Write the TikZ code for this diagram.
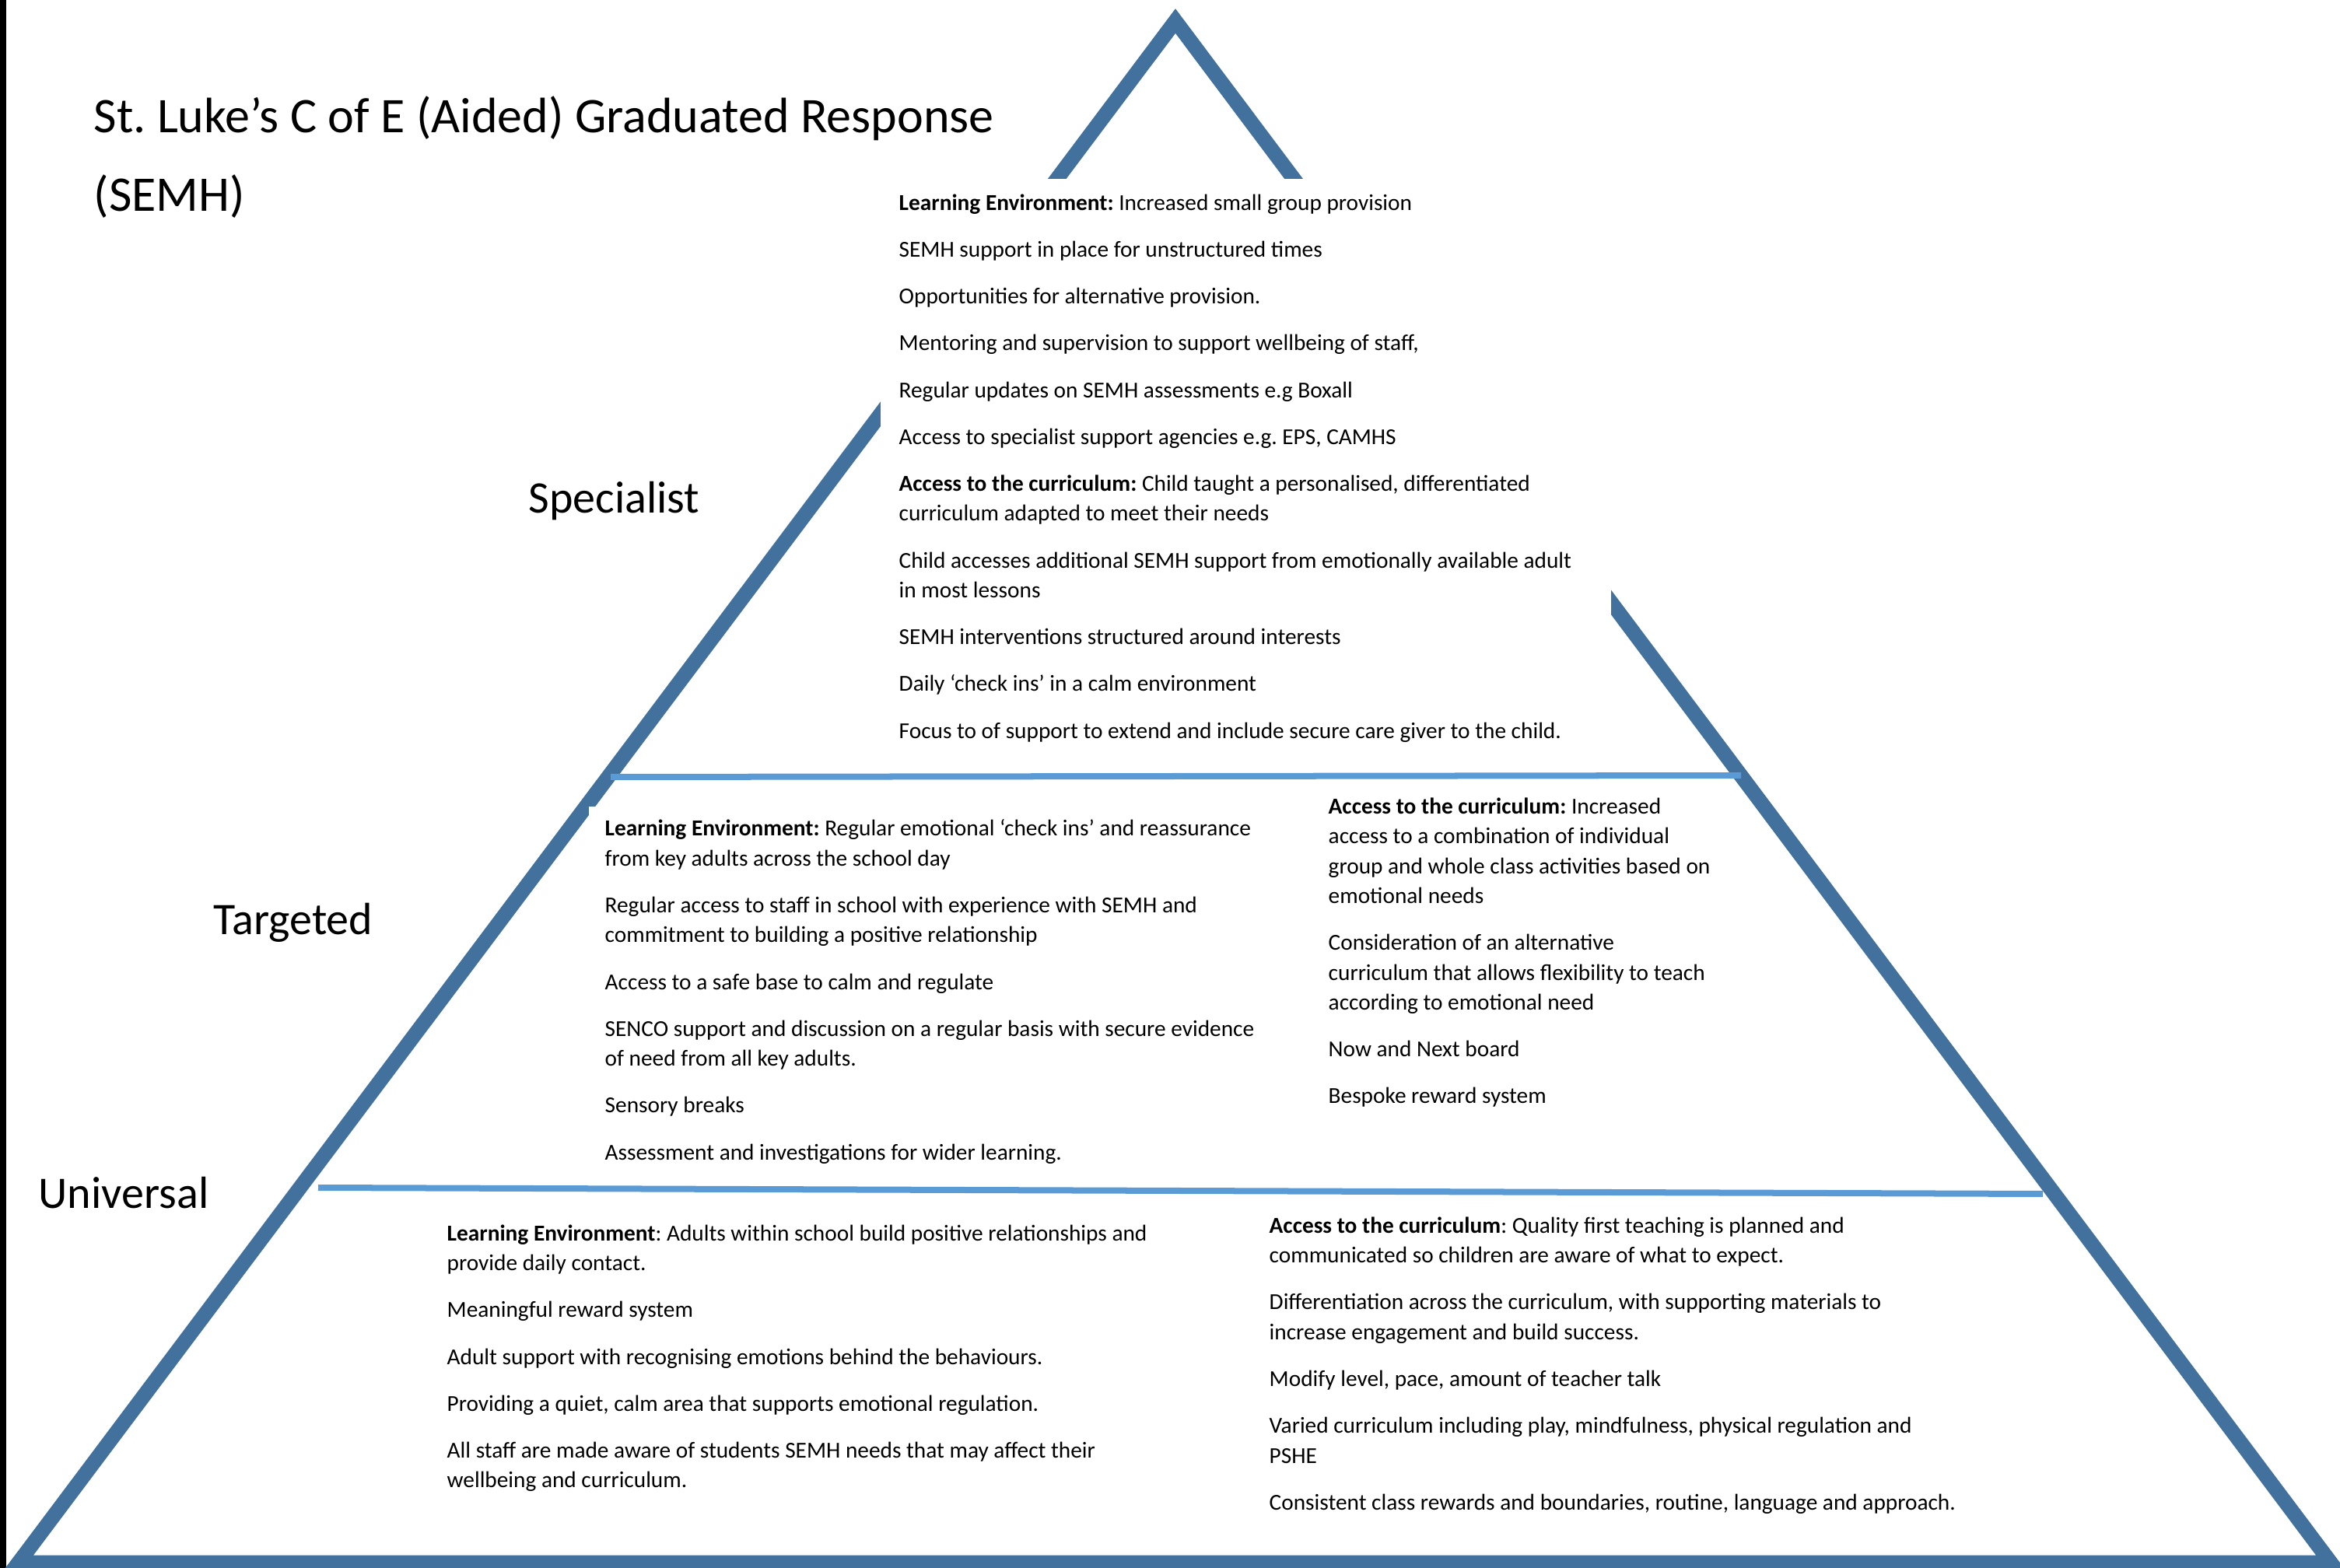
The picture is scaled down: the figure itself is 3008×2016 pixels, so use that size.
\documentclass[tikz,border=0pt]{standalone}
\usepackage{fontspec}
\setmainfont{Carlito}
\usepackage{tikz}
\frenchspacing
\definecolor{pyramid}{RGB}{65,113,156}
\definecolor{divider}{RGB}{91,155,213}
\tikzstyle{edge} = [draw=pyramid, line width=0.19cm, line join=miter]
\tikzstyle{band} = [draw=divider, line width=0.08cm]
\tikzstyle{mask} = [fill=white]
\tikzstyle{heading} = [anchor=north west, inner sep=0pt, align=left, font=\fontsize{18.2}{22.2}\selectfont, execute at begin node=\strut]
\tikzstyle{level} = [anchor=base west, inner sep=0pt, font=\fontsize{16.5}{20}\selectfont]
\tikzstyle{items} = [anchor=north west, inner sep=0pt, align=left, font=\fontsize{8.34}{10.92}\selectfont, execute at begin node=\strut]
\newcommand{\itemgap}{\\[6.2pt]}

\begin{document}
\begin{tikzpicture}[x=0.01cm, y=-0.01cm]
		\useasboundingbox (0,0) rectangle (3008,2016);
		\fill[black] (0,0) rectangle (8,2016);
		\draw [edge] (24,2009) -- (1511,27) -- (2996,2009) -- cycle;
		\fill [mask] (1132,230) rectangle (2071,975);
		\fill [mask] (757,1037) rectangle (1650,1515);
		\draw [band] (785,999) -- (2238,997);
		\draw [band] (409,1527) -- (2626,1535);
		\node (title) [heading] at (120,123) {St. Luke’s C of E (Aided) Graduated Response\\[6.6pt](SEMH)};
		\node (specialist) [level] at (679,660) {Specialist};
		\node (targeted) [level] at (274,1202) {Targeted};
		\node (universal) [level] at (49,1553) {Universal};
		\node (spec) [items] at (1155,249) {\textbf{Learning Environment:} Increased small group provision\itemgap
			SEMH support in place for unstructured times\itemgap
			Opportunities for alternative provision.\itemgap
			Mentoring and supervision to support wellbeing of staff,\itemgap
			Regular updates on SEMH assessments e.g Boxall\itemgap
			Access to specialist support agencies e.g. EPS, CAMHS\itemgap
			\textbf{Access to the curriculum:} Child taught a personalised, differentiated\\
			curriculum adapted to meet their needs\itemgap
			Child accesses additional SEMH support from emotionally available adult\\
			in most lessons\itemgap
			SEMH interventions structured around interests\itemgap
			Daily ‘check ins’ in a calm environment\itemgap
			Focus to of support to extend and include secure care giver to the child.};
		\node (targenv) [items] at (777,1053) {\textbf{Learning Environment:} Regular emotional ‘check ins’ and reassurance\\
			from key adults across the school day\itemgap
			Regular access to staff in school with experience with SEMH and\\
			commitment to building a positive relationship\itemgap
			Access to a safe base to calm and regulate\itemgap
			SENCO support and discussion on a regular basis with secure evidence\\
			of need from all key adults.\itemgap
			Sensory breaks\itemgap
			Assessment and investigations for wider learning.};
		\node (targcurr) [items] at (1707,1025) {\textbf{Access to the curriculum:} Increased\\
			access to a combination of individual\\
			group and whole class activities based on\\
			emotional needs\itemgap
			Consideration of an alternative\\
			curriculum that allows flexibility to teach\\
			according to emotional need\itemgap
			Now and Next board\itemgap
			Bespoke reward system};
		\node (univenv) [items] at (574,1574) {\textbf{Learning Environment}: Adults within school build positive relationships and\\
			provide daily contact.\itemgap
			Meaningful reward system\itemgap
			Adult support with recognising emotions behind the behaviours.\itemgap
			Providing a quiet, calm area that supports emotional regulation.\itemgap
			All staff are made aware of students SEMH needs that may affect their\\
			wellbeing and curriculum.};
		\node (univcurr) [items] at (1631,1564) {\textbf{Access to the curriculum}: Quality first teaching is planned and\\
			communicated so children are aware of what to expect.\itemgap
			Differentiation across the curriculum, with supporting materials to\\
			increase engagement and build success.\itemgap
			Modify level, pace, amount of teacher talk\itemgap
			Varied curriculum including play, mindfulness, physical regulation and\\
			PSHE\itemgap
			Consistent class rewards and boundaries, routine, language and approach.};
	\end{tikzpicture}
\end{document}
